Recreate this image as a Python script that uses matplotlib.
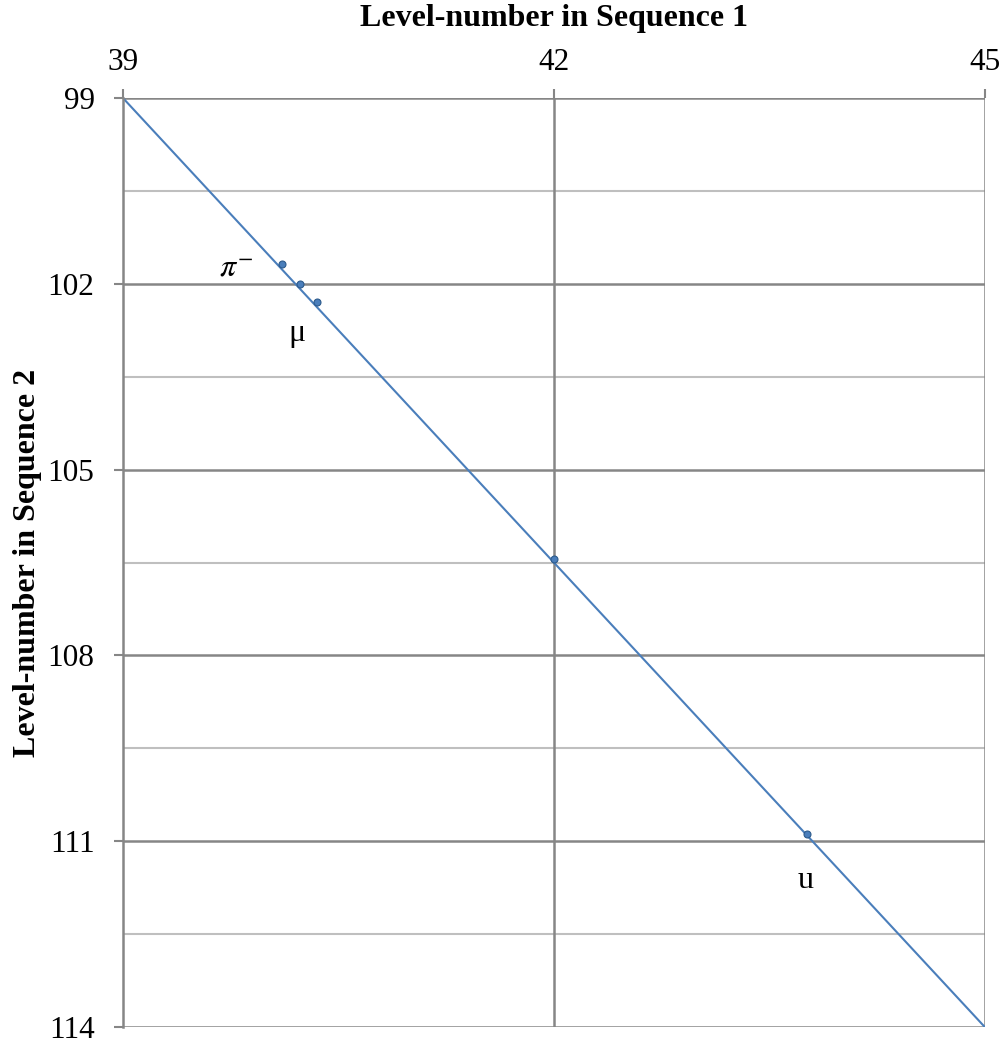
import matplotlib

matplotlib.use("Agg")
import matplotlib.pyplot as plt

plt.rcParams.update({
    "font.family": "Liberation Serif", "font.size": 22.5,
    "mathtext.fontset": "stix",
})

BLUE = "#4a7ebb"
MAJOR, MINOR = "#868686", "#bfbfbf"

# line endpoints
line_x = [39, 45]
line_y = [99, 114]

# marked levels
pt_x = [40.11, 40.23, 40.35, 42.0, 43.76]
pt_y = [101.68, 102.0, 102.3, 106.45, 110.89]

labels = [(r"$\pi^{-}$", 40.11, 101.68, -0.32, 0.08),
          ("μ", 40.23, 102.0, -0.02, 0.8),
          ("u", 43.76, 110.89, -0.01, 0.75)]

x_ticks = [39, 42, 45]
y_ticks = [99, 102, 105, 108, 111, 114]
y_minor = [100.5, 103.5, 106.5, 109.5, 112.5]

fig = plt.figure(figsize=(10.08, 10.43), dpi=100)
ax = fig.add_axes([0.122, 0.0153, 0.855, 0.8907])

ax.set_xlim(39, 45)
ax.set_ylim(114, 99)
ax.xaxis.tick_top()
ax.set_xticks(x_ticks)
ax.set_yticks(y_ticks)
ax.set_yticks(y_minor, minor=True)
ax.tick_params(axis="y", which="minor", length=0)
ax.tick_params(axis="both", which="major", length=6.5, width=1.5, color=MAJOR)
ax.tick_params(axis="x", pad=9)
ax.tick_params(axis="y", pad=14)

for v in y_ticks:
    ax.axhline(v, color=MAJOR, lw=1.8, zorder=1)
for v in y_minor:
    ax.axhline(v, color=MINOR, lw=1.5, zorder=1)
for v in x_ticks[1:]:
    ax.axvline(v, color=MAJOR, lw=1.8, zorder=1)

for s in ["top", "right", "bottom"]:
    ax.spines[s].set_visible(False)
ax.spines["left"].set_color(MAJOR)
ax.spines["left"].set_linewidth(1.8)

ax.plot(line_x, line_y, color=BLUE, lw=1.5, zorder=2)
ax.plot(pt_x, pt_y, "o", ms=5, color=BLUE, mec="#2c5a8c", mew=0.8, zorder=3)

for txt, x, y, dx, dy in labels:
    ax.text(x + dx, y + dy, txt, ha="center", va="center", fontsize=23)

fig.text(0.5496, 1 - 26 / 1043, "Level-number in Sequence 1", fontsize=23,
         fontweight="bold", ha="center", va="baseline")
fig.text(28 / 1008, 1 - 563 / 1043, "Level-number in Sequence 2", fontsize=23,
         fontweight="bold", ha="center", va="center", rotation=90)

fig.savefig("out.png", dpi=100)
